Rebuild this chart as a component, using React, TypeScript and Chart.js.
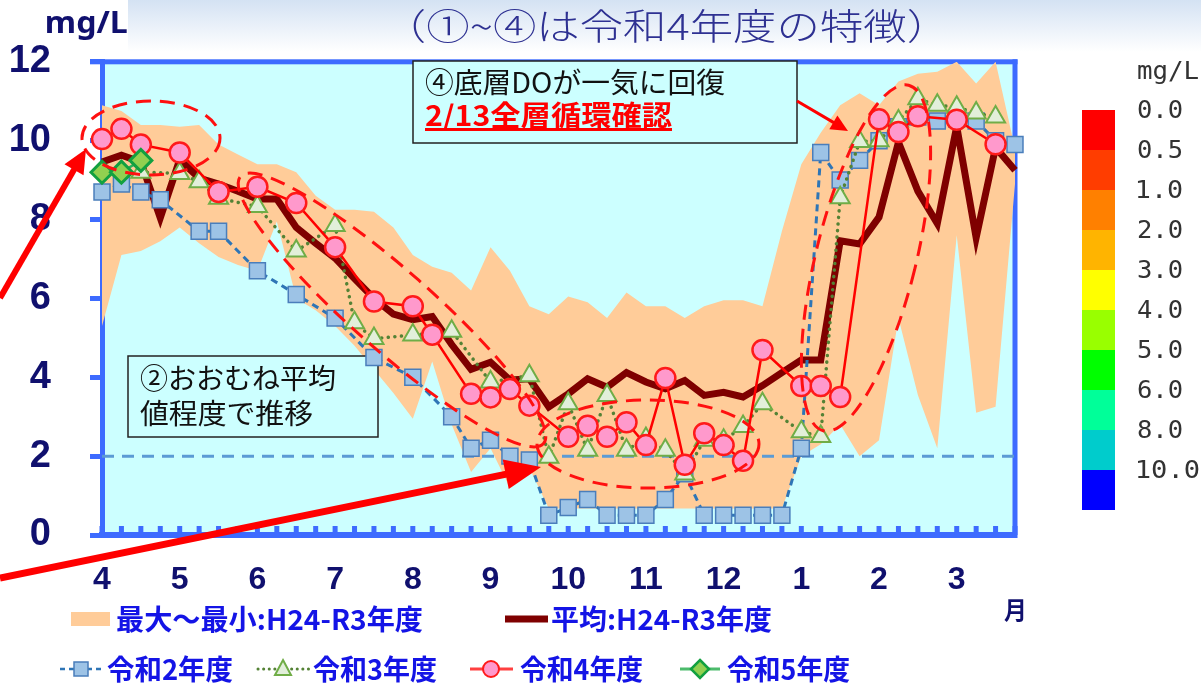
import React, { useEffect, useRef } from 'react';
import { Chart, registerables } from 'chart.js';

Chart.register(...registerables);

// ---------------- data ----------------
const months = ['4', '5', '6', '7', '8', '9', '10', '11', '12', '1', '2', '3'];
const weekLabels = months.flatMap((m) => ['1', '2', '3', '4'].map((w) => `${m}月${w}`));
const N = null;

const bandMax = [
  10.9, 10.75, 10.4, 10.4, 10.35, 10.4, 9.9, 9.65, 9.4, 9.4,
  9.2, 8.6, 8.25, 8.25, 8.2, 7.8, 7.1, 6.8, 6.65, 6.2,
  7.3, 6.7, 5.8, 5.6, 6.05, 5.9, 5.5, 6.15, 5.8, 5.8,
  5.5, 5.8, 5.95, 5.95, 5.8, 7.7, 9.4, 10.2, 10.9, 11.2,
  10.9, 11.5, 11.7, 11.75, 12.0, 11.45, 12.0, 9.8,
];
const bandMin = [
  5.3, 7.1, 7.2, 7.45, 7.8, 7.4, 7.05, 6.85, 6.7, 7.95,
  6.0, 5.7, 5.3, 4.8, 4.2, 3.6, 2.95, 4.4, 2.8, 1.6,
  2.2, 1.2, 1.7, 0.67, 0.67, 0.67, 0.67, 0.67, 0.67, 0.67,
  0.67, 0.67, 0.67, 0.67, 0.67, 0.67, 2.0, 2.3, 2.8, 2.0,
  2.4, 5.5, 3.55, 2.2, 7.6, 3.1, 3.25, 8.9,
];
const meanH24R3 = [
  9.46, 9.63, 9.46, 8.04, 9.52, 9.05, 8.9, 8.72, 8.52, 8.52,
  7.8, 7.4, 7.02, 6.5, 6.0, 5.6, 5.46, 5.54, 4.83, 4.2,
  4.38, 3.93, 3.96, 3.25, 3.58, 3.96, 3.75, 4.12, 3.88, 3.71,
  3.92, 3.54, 3.62, 3.5, 3.79, 4.12, 4.44, 4.44, 7.46, 7.38,
  8.06, 9.96, 8.72, 7.9, 10.36, 7.54, 9.83, 9.25,
];
const reiwa2 = [
  8.7, 8.9, 8.7, 8.5, N, 7.7, 7.7, N, 6.7, N,
  6.1, N, 5.5, N, 4.5, N, 4.0, N, 3.0, 2.2,
  2.4, 2.0, 1.9, 0.5, 0.7, 0.9, 0.5, 0.5, 0.5, 0.9,
  1.55, 0.5, 0.5, 0.5, 0.5, 0.5, 2.2, 9.7, 9.0, 9.5,
  10.0, 10.35, 10.6, 10.5, 10.55, 10.5, 10.0, 9.9,
];
const reiwa3 = [
  N, N, 9.2, N, 9.17, 8.96, 8.54, N, 8.33, N,
  7.2, N, 7.85, 5.38, 4.98, N, 5.07, N, 5.17, N,
  3.88, N, 4.04, 1.97, 3.33, 2.15, 3.54, 2.15, 2.45, 2.15,
  1.55, 2.4, 2.4, 2.75, 3.33, N, 2.62, 2.5, 8.55, 9.98,
  10.0, 10.5, 11.06, 10.9, 10.85, 10.7, 10.6, N,
];
const reiwa4 = [
  10.04, 10.3, 9.9, N, 9.7, N, 8.7, N, 8.83, N,
  8.42, N, 7.3, N, 5.92, N, 5.8, 5.08, N, 3.58,
  3.49, 3.7, 3.28, N, 2.49, 2.77, 2.49, 2.86, 2.28, 3.98,
  1.78, 2.58, 2.28, 1.88, 4.69, N, 3.78, 3.78, 3.5, N,
  10.54, 10.22, 10.62, N, 10.53, N, 9.91, N,
];
const reiwa5 = [9.2, 9.2, 9.5];

const yMin = 0;
const yMax = 12;
const yStep = 2;
const referenceLevel = 2;

const nameBand = '最大～最小:H24-R3年度';
const nameMean = '平均:H24-R3年度';
const nameR2 = '令和2年度';
const nameR3 = '令和3年度';
const nameR4 = '令和4年度';
const nameR5 = '令和5年度';

const colorBarLabels = ['0.0', '0.5', '1.0', '2.0', '3.0', '4.0', '5.0', '6.0', '8.0', '10.0'];
const colorBarColors = ['#ff0000', '#ff3d00', '#ff8000', '#ffb400', '#ffff00', '#99ff00', '#00ff00', '#00ff99', '#00cccc', '#0000ff'];

const titleText = '（①~④は令和4年度の特徴）';
const unitText = 'mg/L';
const monthUnit = '月';
const note4Line1 = '④底層DOが一気に回復';
const note4Line2 = '2/13全層循環確認';
const note2Line1 = '②おおむね平均';
const note2Line2 = '値程度で推移';

// ---------------- styles ----------------
const BLUE = '#3d6bff';
const NAVY = '#10106e';
const PLOT_BG = '#ccffff';
const BAND = '#ffcc99';
const MEAN = '#7f0000';
const LEG = '#1414e6';
const CJK = '"Noto Sans CJK JP"';
const MEAN_INDEX = 4;

// draws text so that its visible ink spans [x, x + w]
function fitText(ctx: any, text: string, x: number, y: number, w: number, font: string, color: string, baseline = 'middle') {
  ctx.save();
  ctx.font = font;
  ctx.textAlign = 'left';
  ctx.textBaseline = baseline;
  const m = ctx.measureText(text);
  const l = m.actualBoundingBoxLeft || 0;
  const r = m.actualBoundingBoxRight || m.width;
  const ink = Math.max(1, l + r);
  const s = w / ink;
  ctx.translate(x + l * s, y);
  ctx.scale(s, 1);
  ctx.fillStyle = color;
  ctx.fillText(text, 0, 0);
  ctx.restore();
}

function arrow(ctx: any, x1: number, y1: number, x2: number, y2: number, w: number, hl: number, hw: number, color: string) {
  const dx = x2 - x1, dy = y2 - y1;
  const L = Math.hypot(dx, dy);
  const ux = dx / L, uy = dy / L;
  const bx = x2 - ux * hl, by = y2 - uy * hl;
  ctx.save();
  ctx.strokeStyle = color;
  ctx.lineWidth = w;
  ctx.beginPath();
  ctx.moveTo(x1, y1);
  ctx.lineTo(bx + ux * 2, by + uy * 2);
  ctx.stroke();
  ctx.fillStyle = color;
  ctx.beginPath();
  ctx.moveTo(x2, y2);
  ctx.lineTo(bx - uy * hw, by + ux * hw);
  ctx.lineTo(bx + uy * hw, by - ux * hw);
  ctx.closePath();
  ctx.fill();
  ctx.restore();
}

function dashedEllipse(ctx: any, cx: number, cy: number, rx: number, ry: number, rot: number) {
  ctx.save();
  ctx.strokeStyle = '#ff1010';
  ctx.lineWidth = 3;
  ctx.setLineDash([15, 9]);
  ctx.beginPath();
  ctx.ellipse(cx, cy, rx, ry, rot, 0, Math.PI * 2);
  ctx.stroke();
  ctx.restore();
}

function box(ctx: any, x: number, y: number, w: number, h: number) {
  ctx.save();
  ctx.fillStyle = PLOT_BG;
  ctx.fillRect(x, y, w, h);
  ctx.strokeStyle = '#222';
  ctx.lineWidth = 1.5;
  ctx.strokeRect(x, y, w, h);
  ctx.restore();
}

const decorPlugin = {
  id: 'decor',
  beforeDraw(chart: any) {
    const { ctx, chartArea: a } = chart;
    ctx.save();
    ctx.fillStyle = '#ffffff';
    ctx.fillRect(0, 0, chart.width, chart.height);
    ctx.fillStyle = PLOT_BG;
    ctx.fillRect(a.left, a.top, a.right - a.left, a.bottom - a.top);
    ctx.restore();
  },
  beforeDatasetsDraw(chart: any) {
    const { ctx, chartArea: a, scales } = chart;
    ctx.save();
    ctx.fillStyle = BLUE;
    ctx.fillRect(90, a.top - 2.5, a.right + 2.5 - 90, 5);
    ctx.fillRect(a.right - 2.5, a.top - 2.5, 5, a.bottom - a.top + 5.5);
    for (let i = 0; i < weekLabels.length; i++) {
      const x = scales.x.getPixelForValue(i);
      ctx.fillRect(x - 2.5, a.bottom - 9, 5, 9);
    }
    ctx.restore();
  },
  beforeDatasetDraw(chart: any, args: any) {
    if (args.index !== MEAN_INDEX) return;
    const { ctx, chartArea: a, scales } = chart;
    const y = scales.y.getPixelForValue(referenceLevel);
    ctx.save();
    ctx.strokeStyle = '#5b9bd5';
    ctx.lineWidth = 3;
    ctx.setLineDash([12, 8]);
    ctx.beginPath();
    ctx.moveTo(a.left, y);
    ctx.lineTo(a.right, y);
    ctx.stroke();
    ctx.restore();
    // note boxes
    box(ctx, 413, 61, 384, 82);
    fitText(ctx, note4Line1, 425, 82, 300, `28px ${CJK}`, '#111');
    fitText(ctx, note4Line2, 425, 115, 247, `bold 28px ${CJK}`, '#ff0000');
    ctx.save();
    ctx.fillStyle = '#ff0000';
    ctx.fillRect(425, 128, 247, 3);
    ctx.restore();
    box(ctx, 128, 356, 250, 81);
    fitText(ctx, note2Line1, 140, 378, 195, `28px ${CJK}`, '#111');
    fitText(ctx, note2Line2, 140, 413, 172, `28px ${CJK}`, '#111');
  },
  afterDatasetsDraw(chart: any) {
    const { ctx } = chart;
    dashedEllipse(ctx, 151, 138, 69, 37, 0);
    dashedEllipse(ctx, 392, 310, 202, 40, 0.7226);
    dashedEllipse(ctx, 648, 444, 111, 44, 0);
    dashedEllipse(ctx, 866, 258, 50, 178, 0.242);
    arrow(ctx, 0, 298, 86, 149, 6, 24, 11, '#ff0000');
    arrow(ctx, 0, 578, 541, 467, 7, 36, 15, '#ff0000');
    arrow(ctx, 797, 101, 848, 131, 3, 17, 8, '#ff0000');
  },
  afterDraw(chart: any) {
    const { ctx } = chart;
    // header
    ctx.save();
    const g = ctx.createLinearGradient(0, 0, 0, 52);
    g.addColorStop(0, '#d4e2f3');
    g.addColorStop(1, '#ffffff');
    ctx.fillStyle = g;
    ctx.fillRect(128, 0, chart.width - 128, 52);
    ctx.restore();
    fitText(ctx, titleText, 413, 26, 507, `300 36px ${CJK}`, '#2e3192');
    fitText(ctx, unitText, 47, 33, 80, 'bold 30px "Noto Sans"', NAVY, 'alphabetic');
    fitText(ctx, monthUnit, 1004, 610, 20, `bold 24px ${CJK}`, NAVY);

    // legend row 1
    ctx.save();
    ctx.fillStyle = BAND;
    ctx.fillRect(71, 612, 39, 14);
    ctx.strokeStyle = MEAN;
    ctx.lineWidth = 7;
    ctx.beginPath();
    ctx.moveTo(505, 619);
    ctx.lineTo(548, 619);
    ctx.stroke();
    ctx.restore();
    fitText(ctx, nameBand, 117, 619, 306, `bold 28px ${CJK}`, LEG);
    fitText(ctx, nameMean, 552, 619, 220, `bold 28px ${CJK}`, LEG);

    // legend row 2
    const ry = 669;
    ctx.save();
    // R2
    ctx.strokeStyle = '#2e75b6';
    ctx.lineWidth = 2.5;
    ctx.setLineDash([5, 4]);
    ctx.beginPath(); ctx.moveTo(60, ry); ctx.lineTo(103, ry); ctx.stroke();
    ctx.setLineDash([]);
    ctx.fillStyle = '#9dc3e6'; ctx.strokeStyle = '#4a7ebb'; ctx.lineWidth = 1.5;
    ctx.fillRect(74, ry - 7, 14, 14); ctx.strokeRect(74, ry - 7, 14, 14);
    // R3
    ctx.strokeStyle = '#548235'; ctx.lineWidth = 3; ctx.lineCap = 'round';
    ctx.setLineDash([0.1, 5.5]);
    ctx.beginPath(); ctx.moveTo(258, ry); ctx.lineTo(309, ry); ctx.stroke();
    ctx.setLineDash([]); ctx.lineCap = 'butt';
    ctx.fillStyle = '#e2efda'; ctx.strokeStyle = '#70ad47'; ctx.lineWidth = 2;
    ctx.beginPath(); ctx.moveTo(283, ry - 9); ctx.lineTo(291, ry + 6); ctx.lineTo(275, ry + 6); ctx.closePath(); ctx.fill(); ctx.stroke();
    // R4
    ctx.strokeStyle = '#ff4040'; ctx.lineWidth = 3;
    ctx.beginPath(); ctx.moveTo(470, ry); ctx.lineTo(513, ry); ctx.stroke();
    ctx.fillStyle = '#ff99cc'; ctx.strokeStyle = '#ff1a1a'; ctx.lineWidth = 2;
    ctx.beginPath(); ctx.arc(491, ry, 8, 0, Math.PI * 2); ctx.fill(); ctx.stroke();
    // R5
    ctx.strokeStyle = '#4cbb6c'; ctx.lineWidth = 3;
    ctx.beginPath(); ctx.moveTo(680, ry); ctx.lineTo(720, ry); ctx.stroke();
    ctx.fillStyle = '#92d050'; ctx.strokeStyle = '#12a040'; ctx.lineWidth = 2.5;
    ctx.beginPath(); ctx.moveTo(700, ry - 9); ctx.lineTo(709, ry); ctx.lineTo(700, ry + 9); ctx.lineTo(691, ry); ctx.closePath(); ctx.fill(); ctx.stroke();
    ctx.restore();
    fitText(ctx, nameR2, 107, ry, 126, `bold 28px ${CJK}`, LEG);
    fitText(ctx, nameR3, 313, ry, 124, `bold 28px ${CJK}`, LEG);
    fitText(ctx, nameR4, 520, ry, 123, `bold 28px ${CJK}`, LEG);
    fitText(ctx, nameR5, 727, ry, 123, `bold 28px ${CJK}`, LEG);

    // colour bar legend
    ctx.save();
    colorBarColors.forEach((c, k) => {
      ctx.fillStyle = c;
      ctx.fillRect(1082, 110 + k * 40, 33, 40);
    });
    ctx.restore();
    fitText(ctx, unitText, 1138, 72, 60, '25px "DejaVu Sans Mono"', '#333');
    colorBarLabels.forEach((t, k) => {
      fitText(ctx, t, 1138, 111 + k * 40, t.length === 3 ? 44 : 61, '25px "DejaVu Sans Mono"', '#333');
    });
  },
};

export default function App() {
  const ref = useRef<HTMLCanvasElement>(null);
  useEffect(() => {
    const canvas = ref.current;
    if (!canvas) return;
    const chart = new Chart(canvas, {
      type: 'line',
      data: {
        labels: weekLabels,
        datasets: [
          {
            label: nameR5, data: reiwa5, borderColor: '#2bb05a', borderWidth: 2.5,
            pointStyle: 'rectRot', pointRadius: 11, pointBackgroundColor: '#92d050',
            pointBorderColor: '#12a040', pointBorderWidth: 3, spanGaps: true, fill: false,
          },
          {
            label: nameR4, data: reiwa4, borderColor: '#ff0000', borderWidth: 2.5,
            pointStyle: 'circle', pointRadius: 10, pointBackgroundColor: '#ff99cc',
            pointBorderColor: '#ff1a1a', pointBorderWidth: 2.5, spanGaps: true, fill: false,
          },
          {
            label: nameR3, data: reiwa3, borderColor: '#548235', borderWidth: 3.5,
            borderDash: [0.1, 6.5], borderCapStyle: 'round',
            pointStyle: 'triangle', pointRadius: 11, pointBackgroundColor: '#e2efda',
            pointBorderColor: '#70ad47', pointBorderWidth: 2, spanGaps: true, fill: false,
          },
          {
            label: nameR2, data: reiwa2, borderColor: '#2e75b6', borderWidth: 3,
            borderDash: [7, 5],
            pointStyle: 'rect', pointRadius: 11.3, pointBackgroundColor: '#9dc3e6',
            pointBorderColor: '#4a7ebb', pointBorderWidth: 1.5, spanGaps: true, fill: false,
          },
          {
            label: nameMean, data: meanH24R3, borderColor: MEAN, borderWidth: 7,
            pointRadius: 0, borderJoinStyle: 'miter', fill: false,
          },
          {
            label: 'max', data: bandMax, borderColor: 'rgba(0,0,0,0)', borderWidth: 1,
            pointRadius: 0, fill: false,
          },
          {
            label: nameBand, data: bandMin, borderColor: 'rgba(0,0,0,0)', borderWidth: 1,
            pointRadius: 0, fill: '-1', backgroundColor: BAND,
          },
        ],
      },
      options: {
        responsive: false,
        animation: false,
        devicePixelRatio: 1,
        layout: { padding: { top: 55, right: 186, left: 0, bottom: 0 } },
        elements: { line: { tension: 0 } },
        plugins: { legend: { display: false }, tooltip: { enabled: false } },
        events: [],
        scales: {
          x: {
            type: 'category',
            offset: false,
            grid: { display: false, drawTicks: false, drawOnChartArea: false },
            border: { display: true, color: BLUE, width: 6 },
            ticks: {
              autoSkip: false, maxRotation: 0, minRotation: 0, padding: 26,
              color: NAVY,
              font: { family: '"Liberation Sans"', size: 32, weight: 'bold' },
              callback: (_v: any, i: number) => (i % 4 === 0 ? months[i / 4] : ''),
            },
            afterFit: (s: any) => { s.height = 150; },
          },
          y: {
            min: yMin, max: yMax,
            grid: { drawOnChartArea: false, drawTicks: true, tickLength: 12, color: BLUE, lineWidth: 5 },
            border: { display: true, color: BLUE, width: 5 },
            ticks: {
              stepSize: yStep, padding: 39, color: NAVY,
              font: { family: '"Liberation Sans"', size: 38, weight: 'bold' },
            },
            afterFit: (s: any) => { s.width = 102; },
          },
        },
      },
      plugins: [decorPlugin],
    } as any);
    return () => chart.destroy();
  }, []);
  return (
    <div style={{ position: 'absolute', left: 0, top: 0, width: 1201, height: 685, background: '#fff' }}>
      <canvas ref={ref} width={1201} height={685} style={{ display: 'block', width: 1201, height: 685 }} />
    </div>
  );
}
